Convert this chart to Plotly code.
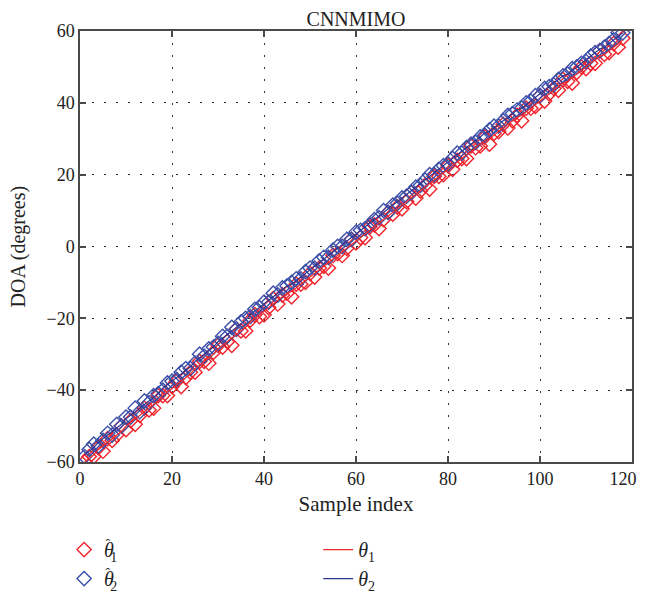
import plotly.graph_objects as go

sample_index = list(range(1, 119))

theta1_true = [-60, -59, -58, -56.5, -55.5, -54.5, -53.5, -52.5, -51.5, -50,
               -49, -48, -47, -46, -45, -44, -43, -41.5, -40.5, -39.5,
               -38.5, -37.5, -36.5, -35.5, -34, -33, -32, -31, -30, -28.5,
               -27.5, -26.5, -25.5, -24.5, -23.5, -22.5, -21, -20, -19, -18,
               -17, -16, -15, -14, -13, -12.5, -11.5, -10.5, -9.5, -8.5,
               -7.5, -6.5, -5.5, -4.5, -3.5, -2.5, -1.5, -0.5, 0.5, 1.5,
               2.5, 3.5, 4.5, 5.5, 6.5, 7.5, 8.5, 9.5, 10.5, 11.5,
               12.5, 13.5, 14.5, 15.5, 16.5, 17.5, 18.5, 19.5, 20.5, 21.5,
               22.5, 23.5, 24.5, 25.5, 26.5, 27.5, 28.5, 29.5, 30, 31,
               32, 33, 34, 35, 36, 36.5, 37.5, 38.5, 39.5, 40.5,
               41.5, 42.5, 43.5, 44.5, 45.5, 46, 47, 48, 49, 50,
               51, 52, 53, 53.5, 54.5, 55.5, 56.5, 57.5]

theta2_true = [-58, -57, -56, -54.5, -53.5, -52.5, -51.5, -50.5, -49.5, -48,
               -47, -46, -45, -44, -43, -42, -41, -39.5, -38.5, -37.5,
               -36.5, -35.5, -34.5, -33.5, -32, -31, -30, -29, -28, -26.5,
               -25.5, -24.5, -23.5, -22.5, -21.5, -20.5, -19, -18, -17, -16,
               -15, -14, -13, -12, -11, -10.5, -9.5, -8.5, -7.5, -6.5,
               -5.5, -4.5, -3.5, -2.5, -1.5, -0.5, 0.5, 1.5, 2.5, 3.5,
               4.5, 5.5, 6.5, 7.5, 8.5, 9.5, 10.5, 11.5, 12.5, 13.5,
               14.5, 15.5, 16.5, 17.5, 18.5, 19.5, 20.5, 21.5, 22.5, 23.5,
               24.5, 25.5, 26.5, 27.5, 28.5, 29.5, 30.5, 31.5, 32, 33,
               34, 35, 36, 37, 38, 38.5, 39.5, 40.5, 41.5, 42.5,
               43.5, 44.5, 45.5, 46.5, 47.5, 48, 49, 50, 51, 52,
               53, 54, 55, 55.5, 56.5, 57.5, 58.5, 59.5]

theta1_est = [-60, -58.5, -58.5, -56, -57, -53.5, -54, -52.5, -50, -51,
              -48.5, -49.5, -47, -45, -45.5, -45, -41.5, -41.5, -41.5, -39,
              -37.5, -39, -36.5, -35, -35, -32, -32, -32.5, -29.5, -27.5,
              -28, -26.5, -27.5, -23, -23.5, -23.5, -20.5, -19, -19.5, -19,
              -17, -14.5, -16, -13.5, -13, -14, -10.5, -10.5, -10, -7.5,
              -8.5, -6, -5.5, -6, -2.5, -2, -2.5, -0.5, 2, 1,
              2.5, 2.5, 5.5, 6, 5, 7.5, 9.5, 9, 11, 10.5,
              12.5, 15, 13.5, 15.5, 17, 16, 19.5, 19.5, 20, 22.5,
              21.5, 24, 24.5, 24.5, 28, 27.5, 28, 30.5, 28.5, 31.5,
              32, 34, 33, 35, 36.5, 35, 38.5, 38.5, 39, 42,
              40.5, 42.5, 44, 43.5, 46.5, 46, 45.5, 48.5, 50, 49.5,
              51, 51, 54.5, 53.5, 54, 56.5, 55.5, 58]

theta2_est = [-58.5, -56.5, -55, -55.5, -54, -52, -52.5, -49.5, -50, -47.5,
              -47.5, -45, -46, -43, -43.5, -41.5, -41, -40, -38, -37.5,
              -37, -35, -34, -34, -32.5, -30, -30.5, -28.5, -28, -27,
              -25, -25, -22.5, -23, -21, -20, -19.5, -17.5, -17, -15.5,
              -15.5, -13, -13.5, -11.5, -11, -10, -9, -9, -7, -6,
              -6, -4, -3, -3, -1, 0, 0, 2, 2, 4,
              4.5, 5, 6, 7.5, 8, 10, 9.5, 11.5, 12, 13.5,
              14, 15, 16.5, 17, 18.5, 20, 20, 21.5, 22.5, 23,
              24.5, 26, 26, 27.5, 28.5, 29, 30.5, 31, 32.5, 33.5,
              33.5, 35, 36.5, 37, 38, 38.5, 40, 40.5, 42, 42,
              44, 44.5, 45, 46.5, 47.5, 48, 49.5, 50, 51, 51.5,
              53, 54, 54.5, 55.5, 56.5, 57.5, 59.5, 59.5]

x_ticks = [0, 20, 40, 60, 80, 100, 120]
x_tick_text = ["0", "20", "40", "60", "80", "100", "120\u2007\u2007"]
y_ticks = [-60, -40, -20, 0, 20, 40, 60]

RED = "#f2222b"
BLUE = "#3b4ea8"
RED_LINE = "#ee2a2a"
BLUE_LINE = "#2a3590"
FONT = "Liberation Serif"
TXT = "#222222"

HATTED = "<span style='letter-spacing:-0.42em'><i>θ</i></span><sup>ˆ</sup>"
est1_name = HATTED + "<sub>1</sub>"
est2_name = HATTED + "<sub>2</sub>"

fig = go.Figure()
fig.add_trace(go.Scatter(
    x=sample_index, y=theta1_est, mode="markers",
    marker=dict(symbol="diamond-open", size=11, color=RED, line=dict(width=1.4, color=RED)),
    name=est1_name, legend="legend"))
fig.add_trace(go.Scatter(
    x=sample_index, y=theta2_est, mode="markers",
    marker=dict(symbol="diamond-open", size=11, color=BLUE, line=dict(width=1.4, color=BLUE)),
    name=est2_name, legend="legend"))
fig.add_trace(go.Scatter(
    x=sample_index, y=theta1_true, mode="lines",
    line=dict(color=RED_LINE, width=1.2),
    name="<i>θ</i><sub>1</sub>", legend="legend2"))
fig.add_trace(go.Scatter(
    x=sample_index, y=theta2_true, mode="lines",
    line=dict(color=BLUE_LINE, width=1.2),
    name="<i>θ</i><sub>2</sub>", legend="legend2"))

axis_common = dict(
    showline=True, linecolor="#4a4a4a", linewidth=1.5, mirror="ticks",
    ticks="inside", ticklen=6, tickwidth=1.5, tickcolor="#4a4a4a",
    showgrid=True, gridcolor="#333333", griddash="1.5px,10.5px", gridwidth=1.3,
    zeroline=False, automargin=False, ticklabeloverflow="allow",
    tickfont=dict(family=FONT, size=18, color=TXT),
)

fig.update_xaxes(range=[0, 120], tickvals=x_ticks, ticktext=x_tick_text,
                 title=dict(text="Sample index", font=dict(family=FONT, size=21, color=TXT), standoff=8),
                 **axis_common)
fig.update_yaxes(range=[-60, 60], tickvals=y_ticks, ticksuffix="\u2009",
                 **axis_common)

legend_common = dict(
    orientation="v", yanchor="top", xanchor="left",
    xref="container", yref="container",
    font=dict(family=FONT, size=20, color=TXT),
    bgcolor="rgba(0,0,0,0)", tracegroupgap=0, itemwidth=30,
)

fig.update_layout(
    width=645, height=598,
    margin=dict(l=72, r=21, t=23, b=144, autoexpand=False),
    paper_bgcolor="white", plot_bgcolor="white",
    title=dict(text="CNNMIMO", x=0.5, xref="paper", y=1, yref="paper",
               yanchor="bottom", pad=dict(b=5),
               font=dict(family=FONT, size=20, color=TXT)),
    legend=dict(x=0.087, y=0.127, **legend_common),
    legend2=dict(x=0.481, y=0.127, **legend_common),
    showlegend=True,
)

# y-axis title
fig.add_annotation(text="DOA (degrees)", textangle=-90, showarrow=False,
                   xref="paper", yref="paper", x=-0.1123, y=0.5,
                   xanchor="center", yanchor="middle",
                   font=dict(family=FONT, size=20, color=TXT))

fig.write_html("out.html")
